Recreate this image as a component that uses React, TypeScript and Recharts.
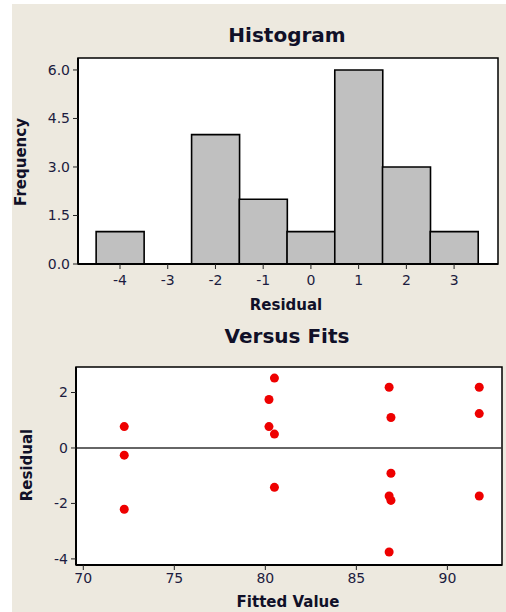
import React from 'react';
import {
  ComposedChart,
  Bar,
  XAxis,
  YAxis,
  CartesianGrid,
  ReferenceArea,
  ReferenceLine,
  ScatterChart,
  Scatter,
} from 'recharts';

// ---- Histogram data ----
const residualBins = [-4, -3, -2, -1, 0, 1, 2, 3];
const frequencies = [1, 0, 4, 2, 1, 6, 3, 1];
const histXTicks = [-4, -3, -2, -1, 0, 1, 2, 3];
const histYTicks = [0, 1.5, 3, 4.5, 6];
const histXDomain = [-4.88, 3.92];
const histYDomain = [0, 6.37];

// ---- Versus Fits data ----
const fittedValues = [
  72.25, 72.25, 72.25,
  80.2, 80.2,
  80.5, 80.5, 80.5,
  86.8, 86.8, 86.8,
  86.9, 86.9, 86.9,
  91.75, 91.75, 91.75,
];
const residuals = [
  0.77, -0.26, -2.21,
  1.75, 0.77,
  2.52, 0.5, -1.42,
  2.19, -1.73, -3.75,
  1.1, -0.91, -1.89,
  2.19, 1.24, -1.73,
];
const fitXTicks = [70, 75, 80, 85, 90];
const fitYTicks = [-4, -2, 0, 2];
const fitXDomain = [69.6, 93.0];
const fitYDomain = [-4.22, 2.92];

const histData = residualBins.map((x, i) => ({ x, f: frequencies[i] }));
const fitData = fittedValues.map((x, i) => ({ x, r: residuals[i] }));

const BG = '#ede9df';
const TICK_COLOR = '#1c1c40';
const FONT = '"DejaVu Sans", Verdana, sans-serif';

const tickStyle = { fontSize: 14, fill: TICK_COLOR, fontFamily: FONT };

const Dot = (props: any) => {
  const { cx, cy } = props;
  if (cx == null || cy == null) return null;
  return <circle cx={cx} cy={cy} r={4.5} fill="#ee0000" />;
};

export default function App() {
  return (
    <div
      style={{
        position: 'absolute',
        left: 0,
        top: 0,
        width: 506,
        height: 612,
        background: '#ffffff',
        overflow: 'hidden',
        fontFamily: FONT,
      }}
    >
      <div
        style={{
          position: 'absolute',
          left: 12,
          top: 4,
          width: 494,
          height: 608,
          background: BG,
        }}
      />
      {/* Histogram */}
      <div style={{ position: 'absolute', left: 0, top: 0 }}>
        <ComposedChart
          width={506}
          height={320}
          data={histData}
          margin={{ top: 58, right: 8, bottom: 26, left: 20 }}
          barCategoryGap={0}
          barGap={0}
        >
          <CartesianGrid fill="#ffffff" horizontal={false} vertical={false} />
          <XAxis
            type="number"
            dataKey="x"
            domain={histXDomain}
            ticks={histXTicks}
            allowDataOverflow
            height={30}
            tickSize={5}
            tickMargin={6}
            tick={tickStyle}
            axisLine={{ stroke: '#000', strokeWidth: 2 }}
            tickLine={{ stroke: '#222' }}
          />
          <YAxis
            type="number"
            dataKey="f"
            domain={histYDomain}
            ticks={histYTicks}
            allowDataOverflow
            width={58}
            tickSize={5}
            tickMargin={3}
            tick={tickStyle}
            tickFormatter={(v: number) => v.toFixed(1)}
            axisLine={{ stroke: '#000', strokeWidth: 2 }}
            tickLine={{ stroke: '#222' }}
          />
          <Bar
            dataKey="f"
            fill="#c0c0c0"
            stroke="#000"
            strokeWidth={1.6}
            isAnimationActive={false}
          />
          <ReferenceArea
            x1={histXDomain[0]}
            x2={histXDomain[1]}
            y1={histYDomain[0]}
            y2={histYDomain[1]}
            fill="none"
            stroke="#000"
            strokeWidth={1.5}
            ifOverflow="visible"
          />
        </ComposedChart>
      </div>
      {/* Versus Fits */}
      <div style={{ position: 'absolute', left: 0, top: 310 }}>
        <ScatterChart
          width={506}
          height={302}
          margin={{ top: 57, right: 4, bottom: 17, left: 26 }}
        >
          <CartesianGrid fill="#ffffff" horizontal={false} vertical={false} />
          <XAxis
            type="number"
            dataKey="x"
            domain={fitXDomain}
            ticks={fitXTicks}
            allowDataOverflow
            height={30}
            tickSize={5}
            tickMargin={3}
            tick={tickStyle}
            axisLine={{ stroke: '#000', strokeWidth: 2 }}
            tickLine={{ stroke: '#222' }}
          />
          <YAxis
            type="number"
            dataKey="r"
            domain={fitYDomain}
            ticks={fitYTicks}
            allowDataOverflow
            width={50}
            tickSize={5}
            tickMargin={3}
            tick={tickStyle}
            axisLine={{ stroke: '#000', strokeWidth: 2 }}
            tickLine={{ stroke: '#222' }}
          />
          <ReferenceLine y={0} stroke="#333" strokeWidth={1.5} />
          <Scatter data={fitData} shape={<Dot />} isAnimationActive={false} />
          <ReferenceArea
            x1={fitXDomain[0]}
            x2={fitXDomain[1]}
            y1={fitYDomain[0]}
            y2={fitYDomain[1]}
            fill="none"
            stroke="#000"
            strokeWidth={1.5}
            ifOverflow="visible"
          />
        </ScatterChart>
      </div>
      {/* Titles and axis titles */}
      <svg
        width={506}
        height={612}
        style={{ position: 'absolute', left: 0, top: 0, pointerEvents: 'none' }}
      >
        <g fontFamily={FONT} fontWeight="bold" fill="#101028">
          <text x={287} y={42} fontSize={20} textAnchor="middle">
            Histogram
          </text>
          <text x={286} y={310} fontSize={15} textAnchor="middle">
            Residual
          </text>
          <text
            x={26}
            y={162}
            fontSize={15}
            textAnchor="middle"
            transform="rotate(-90, 26, 162)"
          >
            Frequency
          </text>
          <text x={287} y={343} fontSize={20} textAnchor="middle">
            Versus Fits
          </text>
          <text
            x={32}
            y={465}
            fontSize={15}
            textAnchor="middle"
            transform="rotate(-90, 32, 465)"
          >
            Residual
          </text>
          <text x={288} y={607} fontSize={15} textAnchor="middle">
            Fitted Value
          </text>
        </g>
      </svg>
    </div>
  );
}
